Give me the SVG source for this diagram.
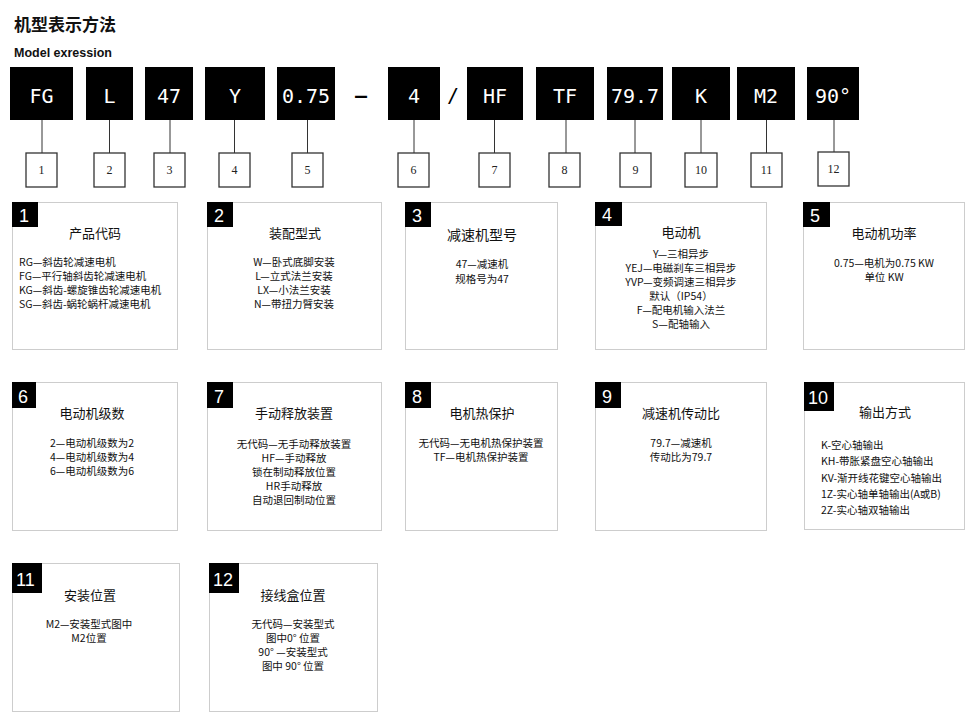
<svg xmlns="http://www.w3.org/2000/svg" width="980" height="721" viewBox="0 0 980 721">
<style>
.bg{fill:#fff}
.h1{font-family:"Noto Sans CJK SC","Liberation Sans",sans-serif;font-size:17px;font-weight:bold;fill:#111}
.h2{font-family:"Liberation Sans",Arial,sans-serif;font-size:12.5px;font-weight:bold;fill:#111}
.code rect{fill:#000}
.codet{font-family:"DejaVu Sans Mono","Liberation Mono",monospace;font-size:20px;fill:#fff;text-anchor:middle}
.sep{font-family:"DejaVu Sans Mono","Liberation Mono",monospace;font-size:20px;font-weight:bold;fill:#000;text-anchor:middle}
.num rect{fill:#fff;stroke:#333;stroke-width:1.3}
.numt{font-family:"Liberation Serif","Times New Roman",serif;font-size:12px;fill:#222;text-anchor:middle}
.conn line{stroke:#333;stroke-width:1}
.bd{fill:#fff;stroke:#cdcdcd;stroke-width:1}
.lab{fill:#000}
.labt{font-family:"Liberation Sans",Arial,sans-serif;font-size:18px;fill:#fff}
.tt{font-family:"Noto Sans CJK SC","Liberation Sans",sans-serif;font-size:13px;fill:#111;text-anchor:middle}
.bt{font-family:"Noto Sans CJK SC","Liberation Sans",sans-serif;font-size:10.5px;fill:#111}
.c{text-anchor:middle}
</style>
<rect class="bg" x="0" y="0" width="980" height="721"/>
<g id="header">
<text class="h1" x="14" y="31">机型表示方法</text>
<text class="h2" x="14" y="57">Model exression</text>
</g>

<g id="connectors" class="conn">
<line x1="42" y1="120" x2="42" y2="153"/>
<line x1="109.5" y1="120" x2="109.5" y2="153"/>
<line x1="170" y1="120" x2="170" y2="153"/>
<line x1="234.5" y1="120" x2="234.5" y2="153"/>
<line x1="307.5" y1="120" x2="307.5" y2="153"/>
<line x1="414" y1="120" x2="414" y2="153"/>
<line x1="494.5" y1="120" x2="494.5" y2="153"/>
<line x1="566" y1="120" x2="566" y2="153"/>
<line x1="635" y1="120" x2="635" y2="153"/>
<line x1="701" y1="120" x2="701" y2="153"/>
<line x1="766.5" y1="120" x2="766.5" y2="153"/>
<line x1="834" y1="120" x2="834" y2="152"/>
</g>

<g id="code-FG" class="code"><rect x="10" y="67" width="63" height="53"/><text class="codet" x="41.5" y="103">FG</text></g>
<g id="code-L" class="code"><rect x="86" y="67" width="47" height="53"/><text class="codet" x="109.5" y="103">L</text></g>
<g id="code-47" class="code"><rect x="145" y="67" width="48" height="53"/><text class="codet" x="169" y="103">47</text></g>
<g id="code-Y" class="code"><rect x="205" y="67" width="60" height="53"/><text class="codet" x="235" y="103">Y</text></g>
<g id="code-075" class="code"><rect x="277" y="67" width="58" height="53"/><text class="codet" x="306" y="103">0.75</text></g>
<g id="sep-dash"><text class="sep" x="361" y="102">—</text></g>
<g id="code-4" class="code"><rect x="388" y="67" width="52" height="53"/><text class="codet" x="414" y="103">4</text></g>
<g id="sep-slash"><text class="sep" x="453" y="102" style="font-weight:normal">/</text></g>
<g id="code-HF" class="code"><rect x="467" y="67" width="56" height="53"/><text class="codet" x="495" y="103">HF</text></g>
<g id="code-TF" class="code"><rect x="536" y="67" width="58" height="53"/><text class="codet" x="565" y="103">TF</text></g>
<g id="code-797" class="code"><rect x="607" y="67" width="56" height="53"/><text class="codet" x="635" y="103">79.7</text></g>
<g id="code-K" class="code"><rect x="672" y="67" width="58" height="53"/><text class="codet" x="701" y="103">K</text></g>
<g id="code-M2" class="code"><rect x="737" y="67" width="58" height="53"/><text class="codet" x="766" y="103">M2</text></g>
<g id="code-90" class="code"><rect x="807" y="67" width="52" height="53"/><text class="codet" x="833" y="103">90°</text></g>

<g id="num-1" class="num"><rect x="26" y="153" width="31" height="34"/><text class="numt" x="41.5" y="174">1</text></g>
<g id="num-2" class="num"><rect x="94" y="153" width="31" height="34"/><text class="numt" x="109.5" y="174">2</text></g>
<g id="num-3" class="num"><rect x="154" y="153" width="31" height="34"/><text class="numt" x="169.5" y="174">3</text></g>
<g id="num-4" class="num"><rect x="219" y="153" width="31" height="34"/><text class="numt" x="234.5" y="174">4</text></g>
<g id="num-5" class="num"><rect x="292" y="153" width="31" height="34"/><text class="numt" x="307.5" y="174">5</text></g>
<g id="num-6" class="num"><rect x="398" y="153" width="31" height="34"/><text class="numt" x="413.5" y="174">6</text></g>
<g id="num-7" class="num"><rect x="479" y="153" width="31" height="34"/><text class="numt" x="494.5" y="174">7</text></g>
<g id="num-8" class="num"><rect x="549" y="153" width="31" height="34"/><text class="numt" x="564.5" y="174">8</text></g>
<g id="num-9" class="num"><rect x="620" y="153" width="31" height="34"/><text class="numt" x="635.5" y="174">9</text></g>
<g id="num-10" class="num"><rect x="685" y="153" width="32" height="34"/><text class="numt" x="701" y="174">10</text></g>
<g id="num-11" class="num"><rect x="751" y="153" width="31" height="34"/><text class="numt" x="766.5" y="174">11</text></g>
<g id="num-12" class="num"><rect x="818" y="152" width="31" height="34"/><text class="numt" x="833.5" y="173">12</text></g>

<g id="card-1">
<rect class="bd" x="12.5" y="202.5" width="165" height="147"/>
<rect class="lab" x="12" y="202" width="26" height="25"/>
<text class="labt" x="19" y="222">1</text>
<text class="tt" x="95" y="238">产品代码</text>
<text class="bt" x="19" y="266">RG—斜齿轮减速电机</text>
<text class="bt" x="19" y="280">FG—平行轴斜齿轮减速电机</text>
<text class="bt" x="19" y="294">KG—斜齿-螺旋锥齿轮减速电机</text>
<text class="bt" x="19" y="308">SG—斜齿-蜗轮蜗杆减速电机</text>
</g>
<g id="card-2">
<rect class="bd" x="207.5" y="202.5" width="174" height="147"/>
<rect class="lab" x="207" y="202" width="26" height="25"/>
<text class="labt" x="214" y="222">2</text>
<text class="tt" x="295" y="238">装配型式</text>
<text class="bt c" x="294" y="266">W—卧式底脚安装</text>
<text class="bt c" x="294" y="280">L—立式法兰安装</text>
<text class="bt c" x="294" y="294">LX—小法兰安装</text>
<text class="bt c" x="294" y="308">N—带扭力臂安装</text>
</g>
<g id="card-3">
<rect class="bd" x="405.5" y="202.5" width="152" height="147"/>
<rect class="lab" x="405" y="202" width="26" height="25"/>
<text class="labt" x="412" y="222">3</text>
<text class="tt" x="482" y="240" style="font-size:14px">减速机型号</text>
<text class="bt c" x="482" y="268">47—减速机</text>
<text class="bt c" x="482" y="283">规格号为47</text>
</g>
<g id="card-4">
<rect class="bd" x="595.5" y="202.5" width="171" height="147"/>
<rect class="lab" x="595" y="202" width="27" height="24"/>
<text class="labt" x="602" y="221">4</text>
<text class="tt" x="681" y="237">电动机</text>
<text class="bt c" x="681" y="258">Y—三相异步</text>
<text class="bt c" x="681" y="272">YEJ—电磁刹车三相异步</text>
<text class="bt c" x="681" y="286">YVP—变频调速三相异步</text>
<text class="bt c" x="681" y="300">默认（IP54）</text>
<text class="bt c" x="681" y="314">F—配电机输入法兰</text>
<text class="bt c" x="681" y="328">S—配轴输入</text>
</g>
<g id="card-5">
<rect class="bd" x="803.5" y="202.5" width="161" height="147"/>
<rect class="lab" x="803" y="202" width="27" height="25"/>
<text class="labt" x="810" y="222">5</text>
<text class="tt" x="884" y="238">电动机功率</text>
<text class="bt c" x="884" y="267">0.75—电机为0.75 KW</text>
<text class="bt c" x="884" y="281">单位 KW</text>
</g>

<g id="card-6">
<rect class="bd" x="12.5" y="382.5" width="165" height="148"/>
<rect class="lab" x="12" y="382" width="24" height="26"/>
<text class="labt" x="18" y="403">6</text>
<text class="tt" x="92" y="418">电动机级数</text>
<text class="bt c" x="92" y="447">2—电动机级数为2</text>
<text class="bt c" x="92" y="461">4—电动机级数为4</text>
<text class="bt c" x="92" y="475">6—电动机级数为6</text>
</g>
<g id="card-7">
<rect class="bd" x="207.5" y="382.5" width="174" height="148"/>
<rect class="lab" x="207" y="382" width="26" height="26"/>
<text class="labt" x="214" y="403">7</text>
<text class="tt" x="294" y="418">手动释放装置</text>
<text class="bt c" x="294" y="448">无代码—无手动释放装置</text>
<text class="bt c" x="294" y="462">HF—手动释放</text>
<text class="bt c" x="294" y="476">锁在制动释放位置</text>
<text class="bt c" x="294" y="490">HR手动释放</text>
<text class="bt c" x="294" y="504">自动退回制动位置</text>
</g>
<g id="card-8">
<rect class="bd" x="405.5" y="382.5" width="152" height="148"/>
<rect class="lab" x="405" y="382" width="26" height="26"/>
<text class="labt" x="412" y="403">8</text>
<text class="tt" x="482" y="418">电机热保护</text>
<text class="bt c" x="481" y="447">无代码—无电机热保护装置</text>
<text class="bt c" x="481" y="461">TF—电机热保护装置</text>
</g>
<g id="card-9">
<rect class="bd" x="595.5" y="382.5" width="171" height="148"/>
<rect class="lab" x="595" y="382" width="26" height="26"/>
<text class="labt" x="602" y="403">9</text>
<text class="tt" x="681" y="418">减速机传动比</text>
<text class="bt c" x="681" y="447">79.7—减速机</text>
<text class="bt c" x="681" y="461">传动比为79.7</text>
</g>
<g id="card-10">
<rect class="bd" x="804.5" y="382.5" width="160" height="147"/>
<rect class="lab" x="804" y="382" width="30" height="29"/>
<text class="labt" x="808" y="404">10</text>
<text class="tt" x="885" y="417">输出方式</text>
<text class="bt" x="821" y="449">K-空心轴输出</text>
<text class="bt" x="821" y="465">KH-带胀紧盘空心轴输出</text>
<text class="bt" x="821" y="482">KV-渐开线花键空心轴输出</text>
<text class="bt" x="821" y="498">1Z-实心轴单轴输出(A或B)</text>
<text class="bt" x="821" y="514">2Z-实心轴双轴输出</text>
</g>

<g id="card-11">
<rect class="bd" x="12.5" y="563.5" width="167" height="148"/>
<rect class="lab" x="12" y="563" width="30" height="30"/>
<text class="labt" x="16" y="586">11</text>
<text class="tt" x="90" y="600">安装位置</text>
<text class="bt c" x="89" y="628">M2—安装型式图中</text>
<text class="bt c" x="89" y="642">M2位置</text>
</g>
<g id="card-12">
<rect class="bd" x="209.5" y="563.5" width="168" height="148"/>
<rect class="lab" x="209" y="563" width="30" height="30"/>
<text class="labt" x="213" y="586">12</text>
<text class="tt" x="293" y="600">接线盒位置</text>
<text class="bt c" x="293" y="628">无代码—安装型式</text>
<text class="bt c" x="293" y="642">图中0° 位置</text>
<text class="bt c" x="293" y="656">90° —安装型式</text>
<text class="bt c" x="293" y="670">图中 90° 位置</text>
</g>
</svg>
